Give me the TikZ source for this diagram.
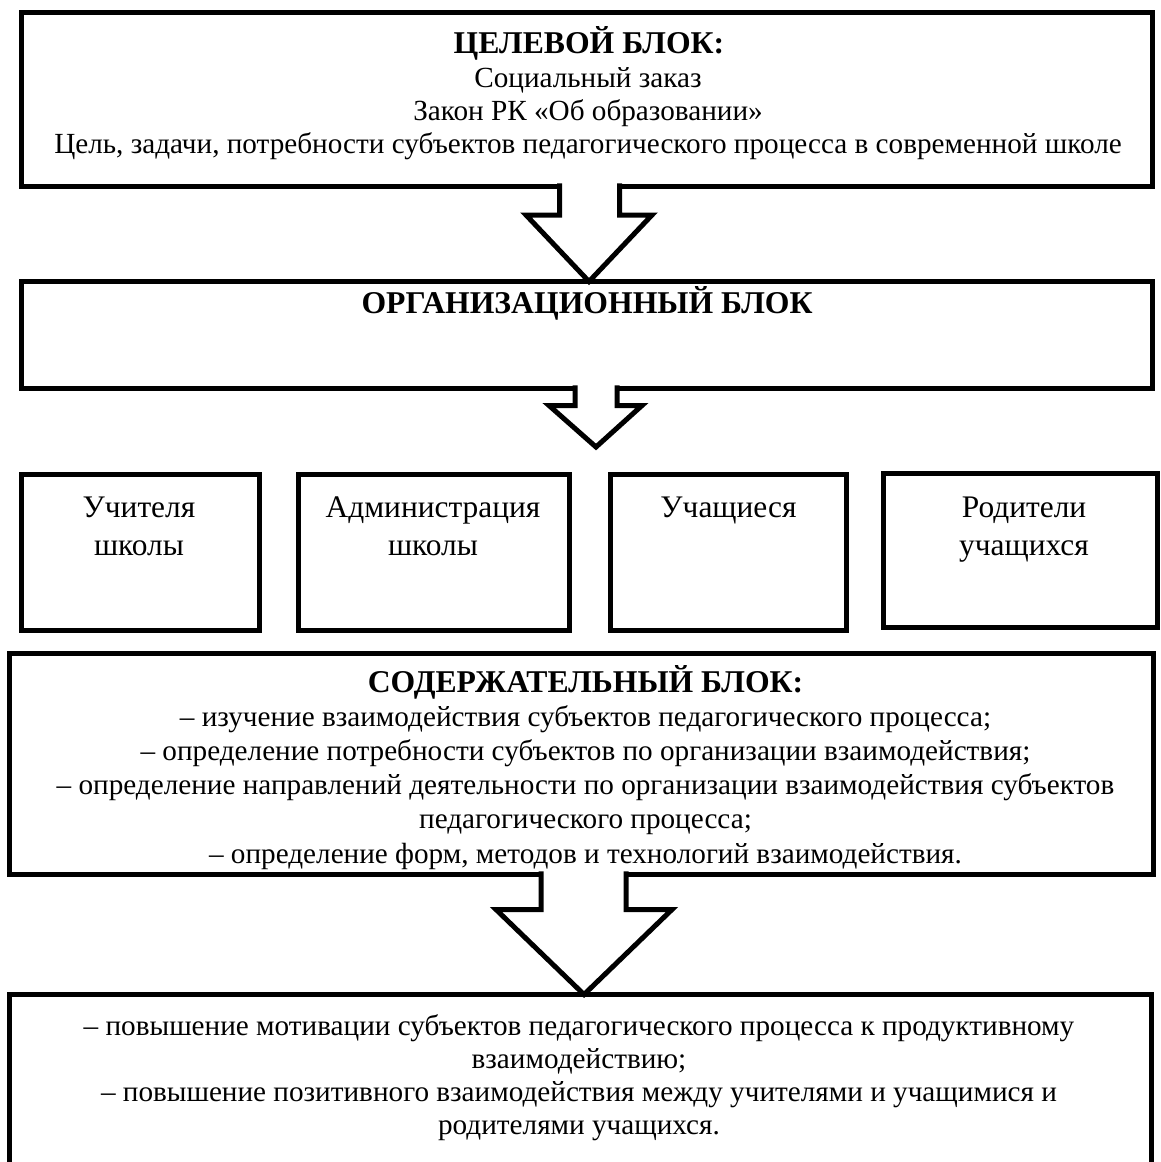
\documentclass[tikz,border=0pt]{standalone}
\usepackage{fontspec}
\setmainfont{Liberation Serif}
\usetikzlibrary{calc}
\begin{document}
\begin{tikzpicture}[x=1pt,y=-1pt,
  frame/.style={draw, line width=5pt, rectangle, outer sep=0pt, inner sep=0pt},
  blockarrow/.style={draw, fill=white, line width=5pt, line join=miter, miter limit=10},
  body/.style={anchor=base, inner sep=0pt, font=\fontsize{29.2}{33.6}\selectfont},
  ttl/.style={anchor=base, inner sep=0pt, font=\fontsize{31.7}{36}\selectfont\bfseries},
  small/.style={anchor=base, inner sep=0pt, font=\fontsize{31.4}{37}\selectfont}]
\useasboundingbox (0,0) rectangle (1160,1162);
\clip (0,0) rectangle (1160,1162);
\fill[white] (0,0) rectangle (1160,1162);

% boxes
\node[frame, minimum width=1131pt, minimum height=173.5pt] (b1) at (586.5,99.25) {};
\node[frame, minimum width=1131pt, minimum height=106.5pt] (b2) at (586.5,334.75) {};
\node[frame, minimum width=238pt, minimum height=156pt] (bA) at (140,552.5) {};
\node[frame, minimum width=271pt, minimum height=156pt] (bB) at (433.5,552.5) {};
\node[frame, minimum width=236pt, minimum height=156pt] (bC) at (728.5,552.5) {};
\node[frame, minimum width=274.5pt, minimum height=154pt] (bD) at (1020.25,550) {};
\node[frame, minimum width=1143.5pt, minimum height=221pt] (b3) at (581.25,763.5) {};
\node[frame, minimum width=1142pt, minimum height=175.5pt] (b4) at (580,1082.25) {};

% block arrows
\coordinate (t2) at (596,447);
\filldraw[blockarrow] ($(559.5,0 |- b1.south)+(0,-2.6)$) -- (559.5,215) -- (526,215)
  -- (589,0 |- b2.north) -- (652,215) -- (619.5,215) -- ($(619.5,0 |- b1.south)+(0,-2.6)$);
\filldraw[blockarrow] ($(575,0 |- b2.south)+(0,-2.6)$) -- (575,405.5) -- (549,405.5)
  -- (t2) -- (642,405.5) -- (617,405.5) -- ($(617,0 |- b2.south)+(0,-2.6)$);
\filldraw[blockarrow] ($(541,0 |- b3.south)+(0,-2.6)$) -- (541,909.5) -- (496,909.5)
  -- (584,0 |- b4.north) -- (672,909.5) -- (626,909.5) -- ($(626,0 |- b3.south)+(0,-2.6)$);

% texts
\node[ttl] (b1t) at (589,53) {ЦЕЛЕВОЙ БЛОК:};
\node[body] (b1l1) at (588,87) {Социальный заказ};
\node[body] (b1l2) at (588,120) {Закон РК «Об образовании»};
\node[body] (b1l3) at (588,153) {Цель, задачи, потребности субъектов педагогического процесса в современной школе};

\node[ttl] (b2t) at (587,313) {ОРГАНИЗАЦИОННЫЙ БЛОК};

\node[small] (aA1) at (139,517) {Учителя};
\node[small] (aA2) at (139,555) {школы};
\node[small] (aB1) at (433,517) {Администрация};
\node[small] (aB2) at (433,555) {школы};
\node[small] (aC1) at (728.5,517) {Учащиеся};
\node[small] (aD1) at (1024,517) {Родители};
\node[small] (aD2) at (1024,555) {учащихся};

\node[ttl] (b3t) at (585.5,692) {СОДЕРЖАТЕЛЬНЫЙ БЛОК:};
\node[body] (b3l1) at (585.5,726) {– изучение взаимодействия субъектов педагогического процесса;};
\node[body] (b3l2) at (585.5,760) {– определение потребности субъектов по организации взаимодействия;};
\node[body] (b3l3) at (585.5,794) {– определение направлений деятельности по организации взаимодействия субъектов};
\node[body] (b3l4) at (585.5,828) {педагогического процесса;};
\node[body] (b3l5) at (585.5,863) {– определение форм, методов и технологий взаимодействия.};

\node[body] (b4l1) at (579,1035) {– повышение мотивации субъектов педагогического процесса к продуктивному};
\node[body] (b4l2) at (579,1068) {взаимодействию;};
\node[body] (b4l3) at (579,1101) {– повышение позитивного взаимодействия между учителями и учащимися и};
\node[body] (b4l4) at (579,1134) {родителями учащихся.};
\end{tikzpicture}
\end{document}
